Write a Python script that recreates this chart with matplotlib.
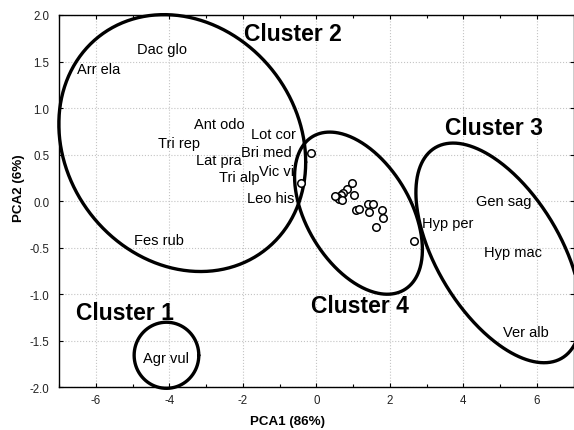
import numpy as np
import matplotlib
matplotlib.use("Agg")
import matplotlib.pyplot as plt
from matplotlib.ticker import MultipleLocator

plt.rcParams['font.family'] = ['Liberation Sans', 'DejaVu Sans']
plt.rcParams['axes.unicode_minus'] = False

# species labels (PCA scores)
species = ["Dac glo", "Arr ela", "Ant odo", "Tri rep", "Lot cor", "Lat pra",
           "Bri med", "Tri alp", "Vic vi", "Leo his", "Fes rub",
           "Gen sag", "Hyp per", "Hyp mac", "Ver alb", "Agr vul"]
species_x = [-4.89, -6.52, -3.33, -4.32, -1.77, -3.28, -2.04, -2.66, -1.56, -1.88, -4.96,
             4.35, 2.88, 4.57, 5.09, -4.71]
species_y = [1.63, 1.42, 0.83, 0.63, 0.72, 0.44, 0.53, 0.26, 0.32, 0.03, -0.42,
             0.00, -0.24, -0.55, -1.41, -1.68]

# sample points (open circles)
pts_x = [-0.14, -0.41, 0.98, 0.84, 1.02, 0.72, 0.66, 0.57, 0.63, 0.69, 0.51,
         1.08, 1.17, 1.40, 1.54, 1.42, 1.78, 1.81, 1.63, 2.65]
pts_y = [0.52, 0.19, 0.19, 0.13, 0.07, 0.09, 0.07, 0.04, 0.02, 0.01, 0.05,
         -0.09, -0.08, -0.03, -0.03, -0.12, -0.09, -0.18, -0.28, -0.43]

# cluster outlines: centre, x half-extent, y half-extent, correlation (tilt)
cluster_names = ["Cluster 1", "Cluster 2", "Cluster 3", "Cluster 4"]
cluster_cx = [-4.08, -3.65, 4.96, 1.147]
cluster_cy = [-1.656, 0.624, -0.556, -0.129]
cluster_rx = [0.88, 3.36, 2.25, 1.74]
cluster_ry = [0.355, 1.38, 1.18, 0.871]
cluster_rho = [0.0, -0.148, -0.55, -0.45]
cluster_label_x = [-6.54, -1.98, 3.51, -0.14]
cluster_label_y = [-1.20, 1.80, 0.79, -1.12]

fig = plt.figure(figsize=(5.74, 4.31), dpi=100)
ax = fig.add_axes([59.2 / 574, (431 - 388.3) / 431, (573.5 - 59.2) / 574, (388.3 - 16) / 431])

ax.set_xlim(-7, 7)
ax.set_ylim(-2, 2)
ax.xaxis.set_major_locator(MultipleLocator(2))
ax.xaxis.set_minor_locator(MultipleLocator(1))
ax.yaxis.set_major_locator(MultipleLocator(0.5))
ax.yaxis.set_major_formatter(matplotlib.ticker.FormatStrFormatter('%.1f'))
ax.grid(True, which='major', linestyle=':', color='#c4c4c4', linewidth=0.8)
ax.set_axisbelow(True)
ax.tick_params(axis='both', which='both', direction='in', top=True, right=True,
               labelsize=8.3, labelcolor='#222222', length=3, width=0.8, pad=5)
ax.tick_params(axis='y', which='both', pad=7)
ax.tick_params(axis='both', which='minor', length=2)
for s in ax.spines.values():
    s.set_linewidth(1.0)
    s.set_color('black')

t = np.linspace(0, 2 * np.pi, 400)
for cx, cy, rx, ry, rho in zip(cluster_cx, cluster_cy, cluster_rx, cluster_ry, cluster_rho):
    ex = cx + rx * np.cos(t)
    ey = cy + ry * (rho * np.cos(t) + np.sqrt(1 - rho ** 2) * np.sin(t))
    ax.plot(ex, ey, color='black', lw=2.4, clip_on=False, solid_capstyle='round')

ax.plot(pts_x, pts_y, linestyle='none', marker='o', markersize=5.4,
        markerfacecolor='white', markeredgecolor='black', markeredgewidth=1.1)

for name, x, y in zip(species, species_x, species_y):
    ax.text(x, y, name, fontsize=10.5, ha='left', va='center', color='black')

for name, x, y in zip(cluster_names, cluster_label_x, cluster_label_y):
    ax.text(x, y, name, fontsize=16.5, fontweight='bold', ha='left', va='center', color='black')

ax.set_xlabel("PCA1 (86%)", fontsize=9.6, fontweight='bold')
ax.set_ylabel("PCA2 (6%)", fontsize=9.6, fontweight='bold')
ax.xaxis.set_label_coords(0.444, -0.074)
ax.yaxis.set_label_coords(-0.067, 0.538)

fig.savefig("out.png", dpi=100)
